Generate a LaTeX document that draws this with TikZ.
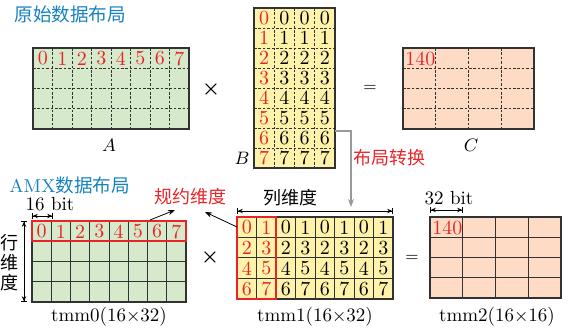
\documentclass[tikz,border=0pt]{standalone}
\usepackage{fontspec}
\newfontfamily\cjk{Noto Sans CJK SC}
\usetikzlibrary{arrows.meta, positioning, calc}
\definecolor{amxgreen}{RGB}{214,233,203}
\definecolor{amxyellow}{RGB}{255,242,170}
\definecolor{amxpeach}{RGB}{253,219,196}
\definecolor{amxred}{RGB}{232,36,40}
\definecolor{amxblue}{RGB}{22,130,192}
\definecolor{gridgray}{RGB}{50,50,50}
\tikzset{
  cell_num/.style={font=\fontsize{10}{11}\selectfont, inner sep=0pt},
  red_num/.style={cell_num, text=amxred},
  title_label/.style={font=\fontsize{9.3}{11}\selectfont, text=amxblue, anchor=west, inner sep=0pt},
  red_label/.style={font=\cjk\fontsize{9}{10}\selectfont, text=amxred, inner sep=0pt},
  dim_label/.style={font=\fontsize{9.5}{10}\selectfont, inner sep=0pt},
  name_label/.style={font=\fontsize{9.5}{10}\selectfont, inner sep=0pt},
  op_label/.style={font=\fontsize{8}{9}\selectfont, inner sep=0pt},
  dashgrid/.style={gridgray, line width=0.45pt, dash pattern=on 1.3pt off 0.9pt},
  solidgrid/.style={gridgray, line width=0.5pt},
  frame/.style={gridgray, line width=0.6pt},
  redframe/.style={amxred, line width=0.8pt},
  dim_arrow/.style={line width=0.4pt, {Bar[width=3pt]Stealth[length=2.5pt,width=2.2pt]}-{Stealth[length=2.5pt,width=2.2pt]Bar[width=3pt]}},
  note_arrow/.style={line width=0.4pt, -{Stealth[length=3.5pt,width=2.6pt]}},
  gray_arrow/.style={gray!80, line width=0.6pt, -{Stealth[length=4pt,width=3pt]}}
}
% x, y, cols, rows, cell width, cell height, fill, grid style
\newcommand{\drawmat}[8]{%
  \fill[#7] (#1,#2) rectangle ++(#3*#5,#4*#6);
  \foreach \i in {1,...,#3} \draw[#8] (#1+\i*#5,#2) -- ++(0,#4*#6);
  \foreach \j in {1,...,#4} \draw[#8] (#1,#2+\j*#6) -- ++(#3*#5,0);
  \draw[frame] (#1,#2) rectangle ++(#3*#5,#4*#6);
}

\begin{document}
\begin{tikzpicture}[x=0.5pt, y=-0.5pt]
  \useasboundingbox (0,0) rectangle (571,330);

  % Titulos
  \node[title_label] (title_orig) at (14,14) {\cjk 原始数据布局};
  \node[title_label] (title_amx) at (9,185) {AMX\cjk 数据布局};

  % Matriz A
  \drawmat{33}{48}{8}{4}{19.5}{20.25}{amxgreen}{dashgrid}
  \foreach \i in {0,...,7}
    \node[red_num] (a\i) at (33+\i*19.5+9.75, 58.5) {\i};
  \node[name_label] (lab_a) at (109,145) {$A$};
  \node[op_label, font=\boldmath] (times_top) at (211,90) {$\times$};

  % Matriz B
  \drawmat{254}{8}{4}{8}{20.25}{20}{amxyellow}{dashgrid}
  \foreach \j in {0,...,7} {
    \node[red_num] (b\j0) at (254+10.1, 18+\j*20) {\j};
    \foreach \i in {1,2,3}
      \node[cell_num] (b\j\i) at (254+\i*20.25+10.1, 18+\j*20) {\j};
  }
  \node[name_label] (lab_b) at (242,158) {$B$};
  \node[op_label] (eq_top) at (370,88) {$=$};

  % Matriz C
  \drawmat{403}{48}{4}{4}{32.75}{20.25}{amxpeach}{dashgrid}
  \node[red_num, anchor=west] (c0) at (405,58.5) {140};
  \node[name_label] (lab_c) at (471,145) {$C$};

  % Conversion de layout
  \coordinate (b_out) at (335,131);
  \coordinate (conv_end) at (351,207);
  \draw[gray_arrow] (b_out) -| (conv_end);
  \node[red_label] (conv_label) at (389,158) {布局转换};

  % tmm0
  \drawmat{32}{221}{8}{4}{19.25}{20.25}{amxgreen}{solidgrid}
  \foreach \i in {0,...,7}
    \node[red_num] (t0\i) at (32+\i*19.25+9.6, 231.5) {\i};
  \draw[redframe] (32,221) rectangle ++(154,20.25);
  \node[name_label] (lab_t0) at (109,317) {tmm0(16$\times$32)};

  \coordinate (bit16_l) at (32,216);
  \coordinate (bit16_r) at (53,216);
  \draw[dim_arrow] (bit16_l) -- (bit16_r);
  \node[dim_label] (bit16) at (50,204) {16 bit};

  \coordinate (row_top) at (24,221);
  \coordinate (row_bot) at (24,302);
  \draw[dim_arrow] (row_top) -- (row_bot);
  \node[font=\cjk\fontsize{9}{10}\selectfont, align=center, inner sep=0pt] (row_label) at (10,263) {行\\维\\度};

  \node[op_label, font=\boldmath] (times_bot) at (210,258) {$\times$};

  % tmm1
  \drawmat{237}{217}{8}{4}{19.5}{20.5}{amxyellow}{solidgrid}
  \foreach \r in {0,...,3}
    \foreach \c in {0,...,7} {
      \pgfmathtruncatemacro\v{2*\r+mod(\c,2)}
      \ifnum\c<2
        \node[red_num] (t1\r\c) at (237+\c*19.5+9.75, 227.5+\r*20.5) {\v};
      \else
        \node[cell_num] (t1\r\c) at (237+\c*19.5+9.75, 227.5+\r*20.5) {\v};
      \fi
    }
  \draw[redframe] (237,217) rectangle ++(39,82);
  \node[name_label] (lab_t1) at (315,317) {tmm1(16$\times$32)};

  \coordinate (col_l) at (237,211);
  \coordinate (col_r) at (393,211);
  \draw[dim_arrow] (col_l) -- (col_r);
  \node[font=\cjk\fontsize{9}{10}\selectfont, inner sep=0pt] (col_label) at (290,198) {列维度};

  % Dimension de reduccion
  \node[red_label] (red_label) at (190,197) {规约维度};
  \coordinate (t0_corner) at (150,220);
  \coordinate (t0_tip) at (175,210);
  \coordinate (t1_corner) at (237,227);
  \coordinate (t1_tip) at (205,212);
  \draw[note_arrow] (t0_corner) -- (t0_tip);
  \draw[note_arrow] (t1_corner) -- (t1_tip);

  \node[op_label] (eq_bot) at (412,258) {$=$};

  % tmm2
  \drawmat{430}{217}{4}{4}{32.75}{20.25}{amxpeach}{solidgrid}
  \node[red_num, anchor=west] (t2_0) at (432,227.5) {140};
  \node[name_label] (lab_t2) at (497,317) {tmm2(16$\times$16)};

  \coordinate (bit32_l) at (430,210);
  \coordinate (bit32_r) at (463,210);
  \draw[dim_arrow] (bit32_l) -- (bit32_r);
  \node[dim_label] (bit32) at (449,198) {32 bit};

\end{tikzpicture}
\end{document}
